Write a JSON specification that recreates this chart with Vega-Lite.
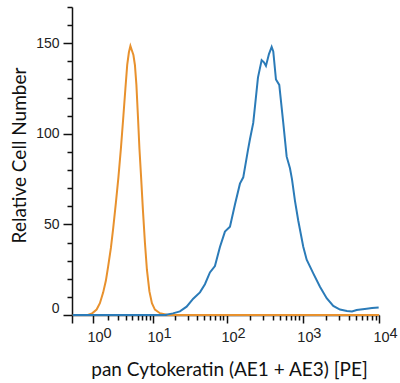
{
  "$schema": "https://vega.github.io/schema/vega-lite/v6.json",
  "width": 307,
  "height": 308,
  "autosize": "none",
  "padding": {"left": 72, "top": 7, "right": 21, "bottom": 68},
  "background": "white",
  "config": {"view": {"stroke": null}},
  "data": {
    "values": [
      {"sample": "control", "fluorescence": 0.2, "count": 0},
      {"sample": "control", "fluorescence": 0.754, "count": 0},
      {"sample": "control", "fluorescence": 0.947, "count": 0.8},
      {"sample": "control", "fluorescence": 1.207, "count": 3},
      {"sample": "control", "fluorescence": 1.412, "count": 6.5},
      {"sample": "control", "fluorescence": 1.639, "count": 12.5},
      {"sample": "control", "fluorescence": 1.842, "count": 19},
      {"sample": "control", "fluorescence": 2.029, "count": 27},
      {"sample": "control", "fluorescence": 2.265, "count": 37},
      {"sample": "control", "fluorescence": 2.483, "count": 48},
      {"sample": "control", "fluorescence": 2.758, "count": 62},
      {"sample": "control", "fluorescence": 3.034, "count": 76},
      {"sample": "control", "fluorescence": 3.331, "count": 92},
      {"sample": "control", "fluorescence": 3.651, "count": 110},
      {"sample": "control", "fluorescence": 3.926, "count": 125},
      {"sample": "control", "fluorescence": 4.188, "count": 138},
      {"sample": "control", "fluorescence": 4.448, "count": 145},
      {"sample": "control", "fluorescence": 4.689, "count": 148.5},
      {"sample": "control", "fluorescence": 4.942, "count": 146},
      {"sample": "control", "fluorescence": 5.206, "count": 143.5},
      {"sample": "control", "fluorescence": 5.483, "count": 138},
      {"sample": "control", "fluorescence": 5.77, "count": 127},
      {"sample": "control", "fluorescence": 6.074, "count": 110},
      {"sample": "control", "fluorescence": 6.391, "count": 92},
      {"sample": "control", "fluorescence": 6.79, "count": 75},
      {"sample": "control", "fluorescence": 7.188, "count": 58},
      {"sample": "control", "fluorescence": 7.683, "count": 40},
      {"sample": "control", "fluorescence": 8.209, "count": 25},
      {"sample": "control", "fluorescence": 8.913, "count": 13},
      {"sample": "control", "fluorescence": 9.672, "count": 6.5},
      {"sample": "control", "fluorescence": 10.66, "count": 3},
      {"sample": "control", "fluorescence": 12.52, "count": 1},
      {"sample": "control", "fluorescence": 16.16, "count": 0},
      {"sample": "control", "fluorescence": 10000, "count": 0},
      {"sample": "stained", "fluorescence": 0.2, "count": 0},
      {"sample": "stained", "fluorescence": 14.69, "count": 0},
      {"sample": "stained", "fluorescence": 18.92, "count": 0.9},
      {"sample": "stained", "fluorescence": 23.56, "count": 2},
      {"sample": "stained", "fluorescence": 29.02, "count": 4.6},
      {"sample": "stained", "fluorescence": 35.59, "count": 9},
      {"sample": "stained", "fluorescence": 43.76, "count": 12.5},
      {"sample": "stained", "fluorescence": 51.03, "count": 17},
      {"sample": "stained", "fluorescence": 59.48, "count": 23.5},
      {"sample": "stained", "fluorescence": 69.32, "count": 27},
      {"sample": "stained", "fluorescence": 80.77, "count": 37.5},
      {"sample": "stained", "fluorescence": 94.08, "count": 46},
      {"sample": "stained", "fluorescence": 109.6, "count": 48.7},
      {"sample": "stained", "fluorescence": 127.6, "count": 61},
      {"sample": "stained", "fluorescence": 148.5, "count": 72.5},
      {"sample": "stained", "fluorescence": 164.2, "count": 76},
      {"sample": "stained", "fluorescence": 189.4, "count": 91},
      {"sample": "stained", "fluorescence": 201.2, "count": 97},
      {"sample": "stained", "fluorescence": 222.4, "count": 106},
      {"sample": "stained", "fluorescence": 234.2, "count": 115},
      {"sample": "stained", "fluorescence": 256.6, "count": 131},
      {"sample": "stained", "fluorescence": 287.0, "count": 140.7},
      {"sample": "stained", "fluorescence": 307.8, "count": 139.5},
      {"sample": "stained", "fluorescence": 327.0, "count": 137.5},
      {"sample": "stained", "fluorescence": 358.1, "count": 144},
      {"sample": "stained", "fluorescence": 388.7, "count": 148},
      {"sample": "stained", "fluorescence": 408.1, "count": 145.5},
      {"sample": "stained", "fluorescence": 442.8, "count": 130},
      {"sample": "stained", "fluorescence": 489.4, "count": 127},
      {"sample": "stained", "fluorescence": 552.4, "count": 106},
      {"sample": "stained", "fluorescence": 612.3, "count": 87.4},
      {"sample": "stained", "fluorescence": 676.7, "count": 81},
      {"sample": "stained", "fluorescence": 718.9, "count": 75},
      {"sample": "stained", "fluorescence": 787.3, "count": 63},
      {"sample": "stained", "fluorescence": 870.0, "count": 52},
      {"sample": "stained", "fluorescence": 1012, "count": 37.7},
      {"sample": "stained", "fluorescence": 1122, "count": 30.5},
      {"sample": "stained", "fluorescence": 1370, "count": 23},
      {"sample": "stained", "fluorescence": 1677, "count": 15.6},
      {"sample": "stained", "fluorescence": 2054, "count": 9.3},
      {"sample": "stained", "fluorescence": 2508, "count": 5},
      {"sample": "stained", "fluorescence": 3070, "count": 3},
      {"sample": "stained", "fluorescence": 3797, "count": 2.2},
      {"sample": "stained", "fluorescence": 4418, "count": 2},
      {"sample": "stained", "fluorescence": 5088, "count": 2.8},
      {"sample": "stained", "fluorescence": 6887, "count": 3.5},
      {"sample": "stained", "fluorescence": 8084, "count": 3.8},
      {"sample": "stained", "fluorescence": 9900, "count": 4.2}
    ]
  },
  "encoding": {
    "y": {
      "field": "count",
      "type": "quantitative",
      "scale": {"domain": [0, 170], "nice": false},
      "axis": {
        "title": "Relative Cell Number",
        "values": [0, 10, 20, 30, 40, 50, 60, 70, 80, 90, 100, 110, 120, 130, 140, 150, 160, 170],
        "labelExpr": "datum.value % 50 == 0 ? datum.label : ''",
        "tickSize": {"condition": {"test": "datum.value % 50 == 0", "value": 9}, "value": 5},
        "labelPadding": 4,
        "labelFont": "Liberation Sans",
        "labelFontSize": 14,
        "labelColor": "#222222",
        "labelOverlap": false,
        "labelFlush": true,
        "tickColor": "#111111",
        "tickWidth": 1.5,
        "domainColor": "#111111",
        "domainWidth": 1.5,
        "grid": false,
        "titleFont": "Lato",
        "titleFontSize": 19,
        "titleFontWeight": "normal",
        "titleColor": "#111111",
        "titleBaseline": "alphabetic",
        "titleX": -47,
        "titleY": 148
      }
    }
  },
  "layer": [
    {
      "transform": [{"filter": "datum.sample == 'control'"}],
      "mark": {"type": "line", "color": "#E8912D", "strokeWidth": 2},
      "encoding": {
        "x": {
          "field": "fluorescence",
          "type": "quantitative",
          "scale": {"type": "symlog", "constant": 0.75, "domain": [0.18, 10000], "nice": false, "zero": false},
          "axis": {
            "orient": "bottom",
            "title": "pan Cytokeratin (AE1 + AE3) [PE]",
            "values": [0.18, 1, 2, 3, 4, 5, 6, 7, 8, 9, 10, 20, 30, 40, 50, 60, 70, 80, 90, 100, 200, 300, 400, 500, 600, 700, 800, 900, 1000, 2000, 3000, 4000, 5000, 6000, 7000, 8000, 9000, 10000],
            "labelExpr": "indexof([1,10,100,1000,10000], datum.value) >= 0 ? '10' : ''",
            "labelAlign": "left",
            "labelOffset": -6,
            "labelBaseline": "top",
            "labelPadding": 7,
            "labelFont": "Liberation Sans",
            "labelFontSize": 14.5,
            "labelColor": "#222222",
            "labelOverlap": false,
            "labelFlush": false,
            "labelBound": false,
            "tickSize": {"condition": {"test": "indexof([0.18,1,10,100,1000,10000], datum.value) >= 0", "value": 8}, "value": 5},
            "tickColor": "#111111",
            "tickWidth": 1.5,
            "domainColor": "#111111",
            "domainWidth": 1.5,
            "grid": false,
            "titleFont": "Lato",
            "titleFontSize": 19,
            "titleFontWeight": "normal",
            "titleColor": "#111111",
            "titleBaseline": "alphabetic",
            "titleX": 157,
            "titleY": 60
          }
        }
      }
    },
    {
      "transform": [{"filter": "datum.sample == 'stained'"}],
      "mark": {"type": "line", "color": "#2B7BB8", "strokeWidth": 2},
      "encoding": {
        "x": {
          "field": "fluorescence",
          "type": "quantitative",
          "axis": {
            "orient": "bottom",
            "title": null,
            "values": [1, 10, 100, 1000, 10000],
            "labelExpr": "round(log(datum.value)/LN10) + ''",
            "labelAlign": "left",
            "labelOffset": 10,
            "labelBaseline": "top",
            "labelPadding": 11,
            "ticks": false,
            "tickSize": 0,
            "domain": false,
            "labelFont": "Liberation Sans",
            "labelFontSize": 14.5,
            "labelColor": "#222222",
            "labelOverlap": false,
            "labelFlush": false,
            "labelBound": false,
            "grid": false
          }
        }
      }
    }
  ],
  "resolve": {"axis": {"x": "independent"}}
}
